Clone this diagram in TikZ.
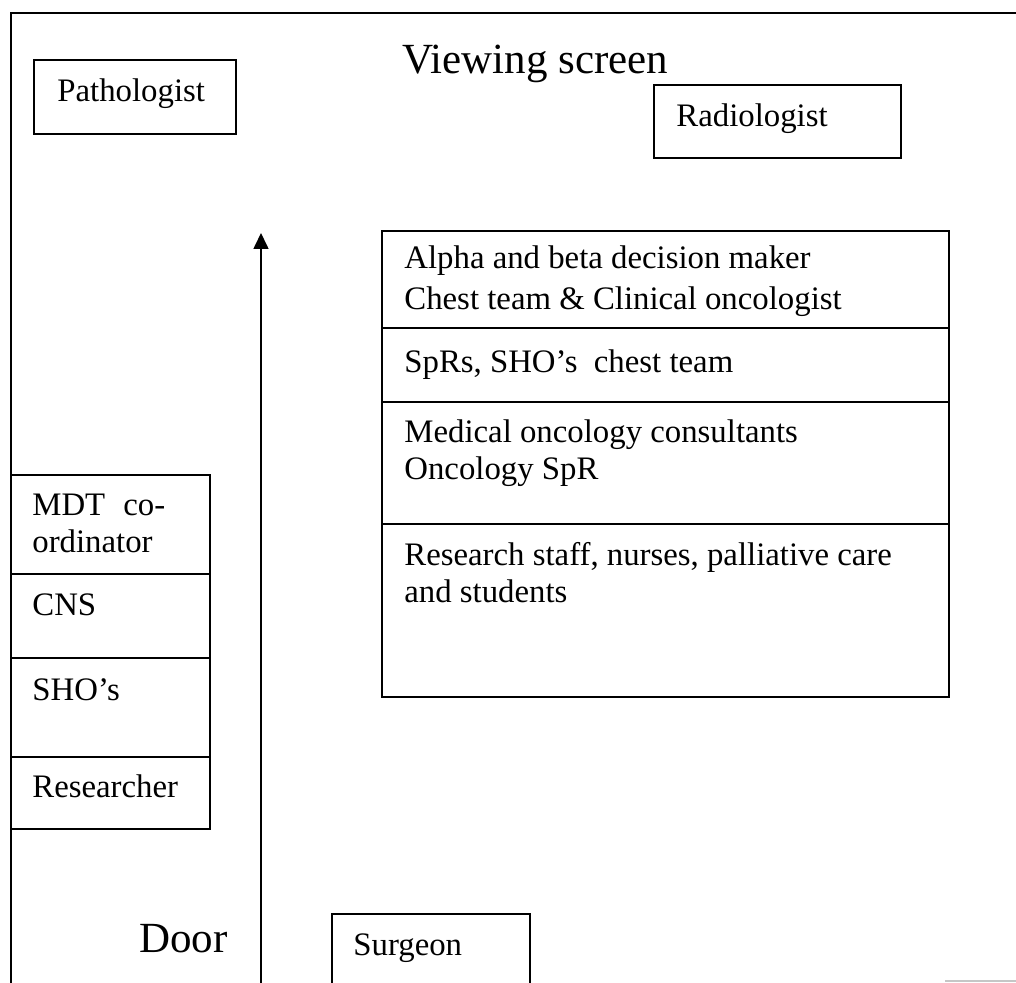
\documentclass[tikz,border=0pt]{standalone}
\usepackage{fontspec}
\setmainfont{Liberation Serif}
\usetikzlibrary{arrows.meta}
\begin{document}
\begin{tikzpicture}[x=0.5pt,y=-0.5pt,
  wall/.style={line width=1pt},
  cell/.style={draw, line width=1pt},
  lbl/.style={anchor=base west, inner sep=0pt, font=\fontsize{16.4}{18.5}\selectfont},
  biglbl/.style={anchor=base west, inner sep=0pt, font=\fontsize{21.5}{24}\selectfont},
  flow/.style={line width=0.8pt, -{Triangle[length=8pt,width=7.5pt]}}]
\useasboundingbox (0,0) rectangle (1016,983);

% room walls
\draw[wall] (11,983) -- (11,13) -- (1016,13);
\draw[gray!45, line width=1pt] (945,981) -- (1016,981);

% front of the room
\node[biglbl] (screen) at (402,74) {Viewing screen};
\draw[cell] (34,60) rectangle (236,134);
\node[lbl] (patho) at (57,102) {Pathologist};
\draw[cell] (654,85) rectangle (901,158);
\node[lbl] (radio) at (676,127) {Radiologist};

% main table, rows of attendees
\draw[cell] (382,231) rectangle (949,697);
\draw[cell] (382,328) -- (949,328);
\draw[cell] (382,402) -- (949,402);
\draw[cell] (382,524) -- (949,524);
\node[lbl] (alpha) at (404,269) {Alpha and beta decision maker};
\node[lbl] (chest) at (404,310) {Chest team \& Clinical oncologist};
\node[lbl] (sprs) at (404,373) {SpRs, SHO’s\ \ chest team};
\node[lbl] (medA) at (404,443) {Medical oncology consultants};
\node[lbl] (medB) at (404,480) {Oncology SpR};
\node[lbl] (resA) at (404,565) {Research staff, nurses, palliative care};
\node[lbl] (resB) at (404,602) {and students};

% side column by the wall
\draw[cell] (11,475) rectangle (210,829);
\draw[cell] (11,574) -- (210,574);
\draw[cell] (11,658) -- (210,658);
\draw[cell] (11,757) -- (210,757);
\node[lbl] (mdt) at (32,515) {MDT};
\node[lbl] (mdtco) at (123,515) {co-};
\node[lbl] (mdtord) at (32,552) {ordinator};
\node[lbl] (cns) at (32,615) {CNS};
\node[lbl] (sho) at (32,700) {SHO’s};
\node[lbl] (resr) at (32,797) {Researcher};

% entrance and walkway
\node[biglbl] (door) at (139,952) {Door};
\coordinate (entry) at (261,983);
\coordinate (aisle) at (261,233);
\draw[flow] (entry) -- (aisle);

\draw[cell] (332,990) -- (332,914) -- (530,914) -- (530,990);
\node[lbl] (surg) at (353,955) {Surgeon};
\end{tikzpicture}
\end{document}
